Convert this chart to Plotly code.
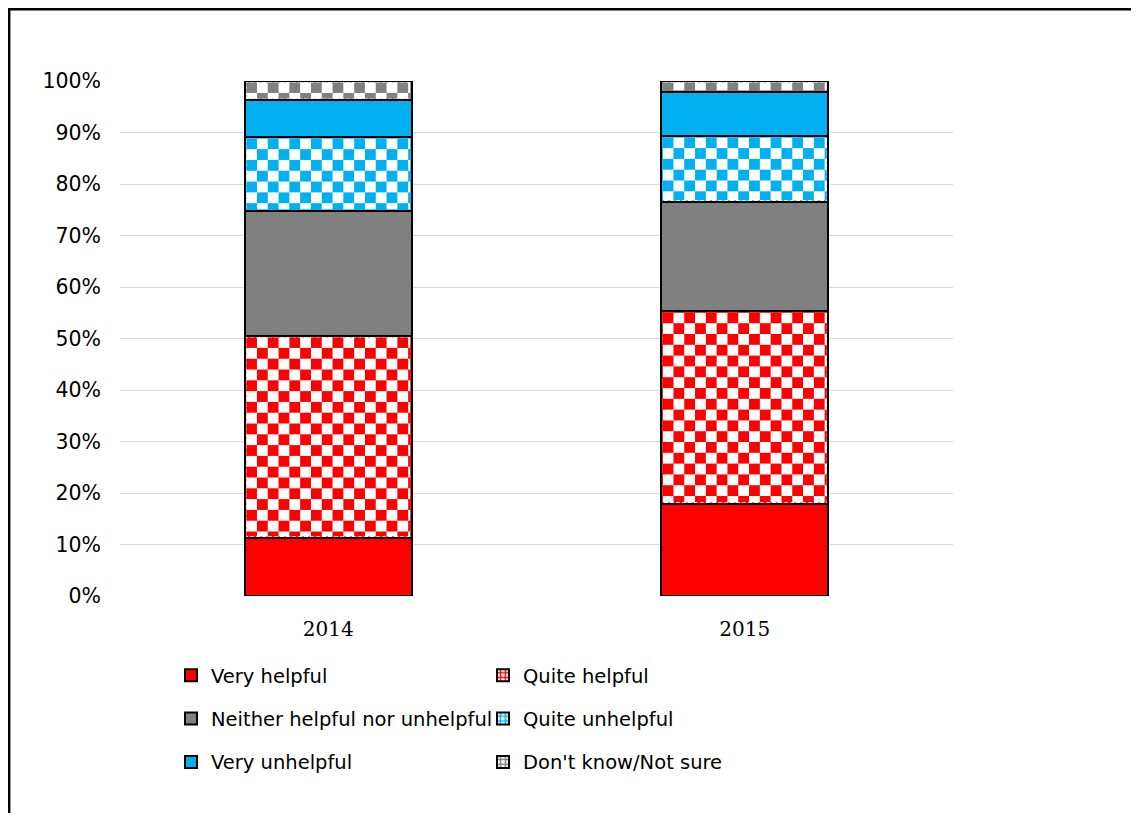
import base64
import plotly.graph_objects as go

# ---------------- data ----------------
years = ["2014", "2015"]
series_names = ["Very helpful", "Quite helpful", "Neither helpful nor unhelpful",
                "Quite unhelpful", "Very unhelpful", "Don't know/Not sure"]
very_helpful = [11.3, 17.9]
quite_helpful = [39.2, 37.4]
neither = [24.3, 21.3]
quite_unhelpful = [14.3, 12.7]
very_unhelpful = [7.2, 8.6]
dont_know = [3.7, 2.1]
y_tick_vals = [0, 10, 20, 30, 40, 50, 60, 70, 80, 90, 100]
y_tick_text = ["0%", "10%", "20%", "30%", "40%", "50%", "60%", "70%", "80%", "90%", "100%"]

series_values = [very_helpful, quite_helpful, neither, quite_unhelpful, very_unhelpful, dont_know]

# ---------------- styles ----------------
RED = "#FF0000"
GRAY = "#808080"
BLUE = "#00B0F0"
colors = [RED, RED, GRAY, BLUE, BLUE, GRAY]
checkered = [False, True, False, True, False, True]
legend_ids = ["legend", "legend2", "legend", "legend2", "legend", "legend2"]

# the page body has an 8px margin: work in page coordinates and shift by OFF
OFF = 8
W, H = 1139 - 2 * OFF, 821 - 2 * OFF
PLOT_L, PLOT_R, PLOT_T, PLOT_B = 120, 953, 81, 596   # page pixel positions
ML, MT = PLOT_L - OFF, PLOT_T - OFF
MR = W - (PLOT_R - OFF)
MB = H - (PLOT_B - OFF)
PW, PH = PLOT_R - PLOT_L, PLOT_B - PLOT_T
BAR_W = 0.4
px_per_cat = PW / len(years)
px_per_unit = PH / 100.0
SQ = 10.8
INSET = 1.2

FONT = "DejaVu Sans"

fig = go.Figure()

for name, vals, col, chk, lg in zip(series_names, series_values, colors, checkered, legend_ids):
    marker = dict(color=col, line=dict(color="black", width=2))
    if chk:
        marker["color"] = "white"
        marker["pattern"] = dict(shape="+", fgcolor=col, bgcolor="white", size=6, solidity=0.5,
                                 fillmode="replace")
    fig.add_trace(go.Bar(
        x=years, y=vals, name=name, width=BAR_W, marker=marker,
        legend=lg, legendgroup=name, hoverinfo="skip",
    ))


def checker_uri(color, w, h):
    s = SQ
    svg = (
        f"<svg xmlns='http://www.w3.org/2000/svg' width='{w:.1f}' height='{h:.1f}'>"
        f"<defs><pattern id='p' x='0' y='0' width='{2*s}' height='{2*s}' patternUnits='userSpaceOnUse'>"
        f"<rect width='{2*s}' height='{2*s}' fill='white'/>"
        f"<rect width='{s}' height='{s}' fill='{color}'/>"
        f"<rect x='{s}' y='{s}' width='{s}' height='{s}' fill='{color}'/>"
        f"</pattern></defs><rect width='100%' height='100%' fill='url(#p)'/></svg>"
    )
    return "data:image/svg+xml;base64," + base64.b64encode(svg.encode()).decode()


# checker fills placed through the data axes
images = []
for j, yr in enumerate(years):
    base = 0.0
    for vals, col, chk in zip(series_values, colors, checkered):
        v = vals[j]
        top = base + v
        if chk:
            iy = INSET / px_per_unit
            ix = INSET / px_per_cat
            wpx = BAR_W * px_per_cat - 2 * INSET
            hpx = v * px_per_unit - 2 * INSET
            images.append(dict(
                source=checker_uri(col, wpx, hpx), xref="x", yref="y",
                x=j, y=top - iy, sizex=BAR_W - 2 * ix, sizey=v - 2 * iy,
                xanchor="center", yanchor="top", sizing="stretch", layer="above",
            ))
        base = top


def px_to_paper_x(px):   # page pixel -> paper
    return (px - PLOT_L) / PW


def px_to_paper_y(py):
    return (PLOT_B - py) / PH


FRAME = OFF + 1.2   # as close to the page edge as the figure allows
frame_shapes = [
    dict(type="line", xref="paper", yref="paper",
         x0=px_to_paper_x(FRAME - 1), x1=px_to_paper_x(1160), y0=px_to_paper_y(FRAME), y1=px_to_paper_y(FRAME),
         line=dict(color="black", width=2.4)),
    dict(type="line", xref="paper", yref="paper",
         x0=px_to_paper_x(FRAME), x1=px_to_paper_x(FRAME), y0=px_to_paper_y(FRAME - 1), y1=px_to_paper_y(840),
         line=dict(color="black", width=2.4)),
]

legend_common = dict(
    orientation="v", font=dict(family=FONT, size=19.5, color="black"),
    bgcolor="rgba(0,0,0,0)", borderwidth=0, traceorder="grouped", tracegroupgap=15,
    xanchor="left", yanchor="top", itemclick=False, itemdoubleclick=False,
)

fig.update_layout(
    width=W, height=H,
    margin=dict(l=ML, r=MR, t=MT, b=MB, autoexpand=False),
    paper_bgcolor="white", plot_bgcolor="white",
    barmode="stack",
    showlegend=True,
    legend=dict(**legend_common, x=px_to_paper_x(171), y=px_to_paper_y(656)),
    legend2=dict(**legend_common, x=px_to_paper_x(483), y=px_to_paper_y(656)),
    xaxis=dict(type="category", categoryorder="array", categoryarray=years,
               range=[-0.5, len(years) - 0.5], showgrid=False, zeroline=False, showline=False,
               ticks="", ticklabelstandoff=19,
               tickfont=dict(family="DejaVu Serif", size=20, color="black")),
    yaxis=dict(range=[0, 100], tickvals=y_tick_vals, ticktext=y_tick_text,
               showgrid=True, gridcolor="#D9D9D9", gridwidth=1, zeroline=False, showline=False,
               ticks="", ticklabelstandoff=18,
               tickfont=dict(family=FONT, size=20.5, color="black")),
    images=images,
    shapes=frame_shapes,
)

fig.write_html("out.html")
